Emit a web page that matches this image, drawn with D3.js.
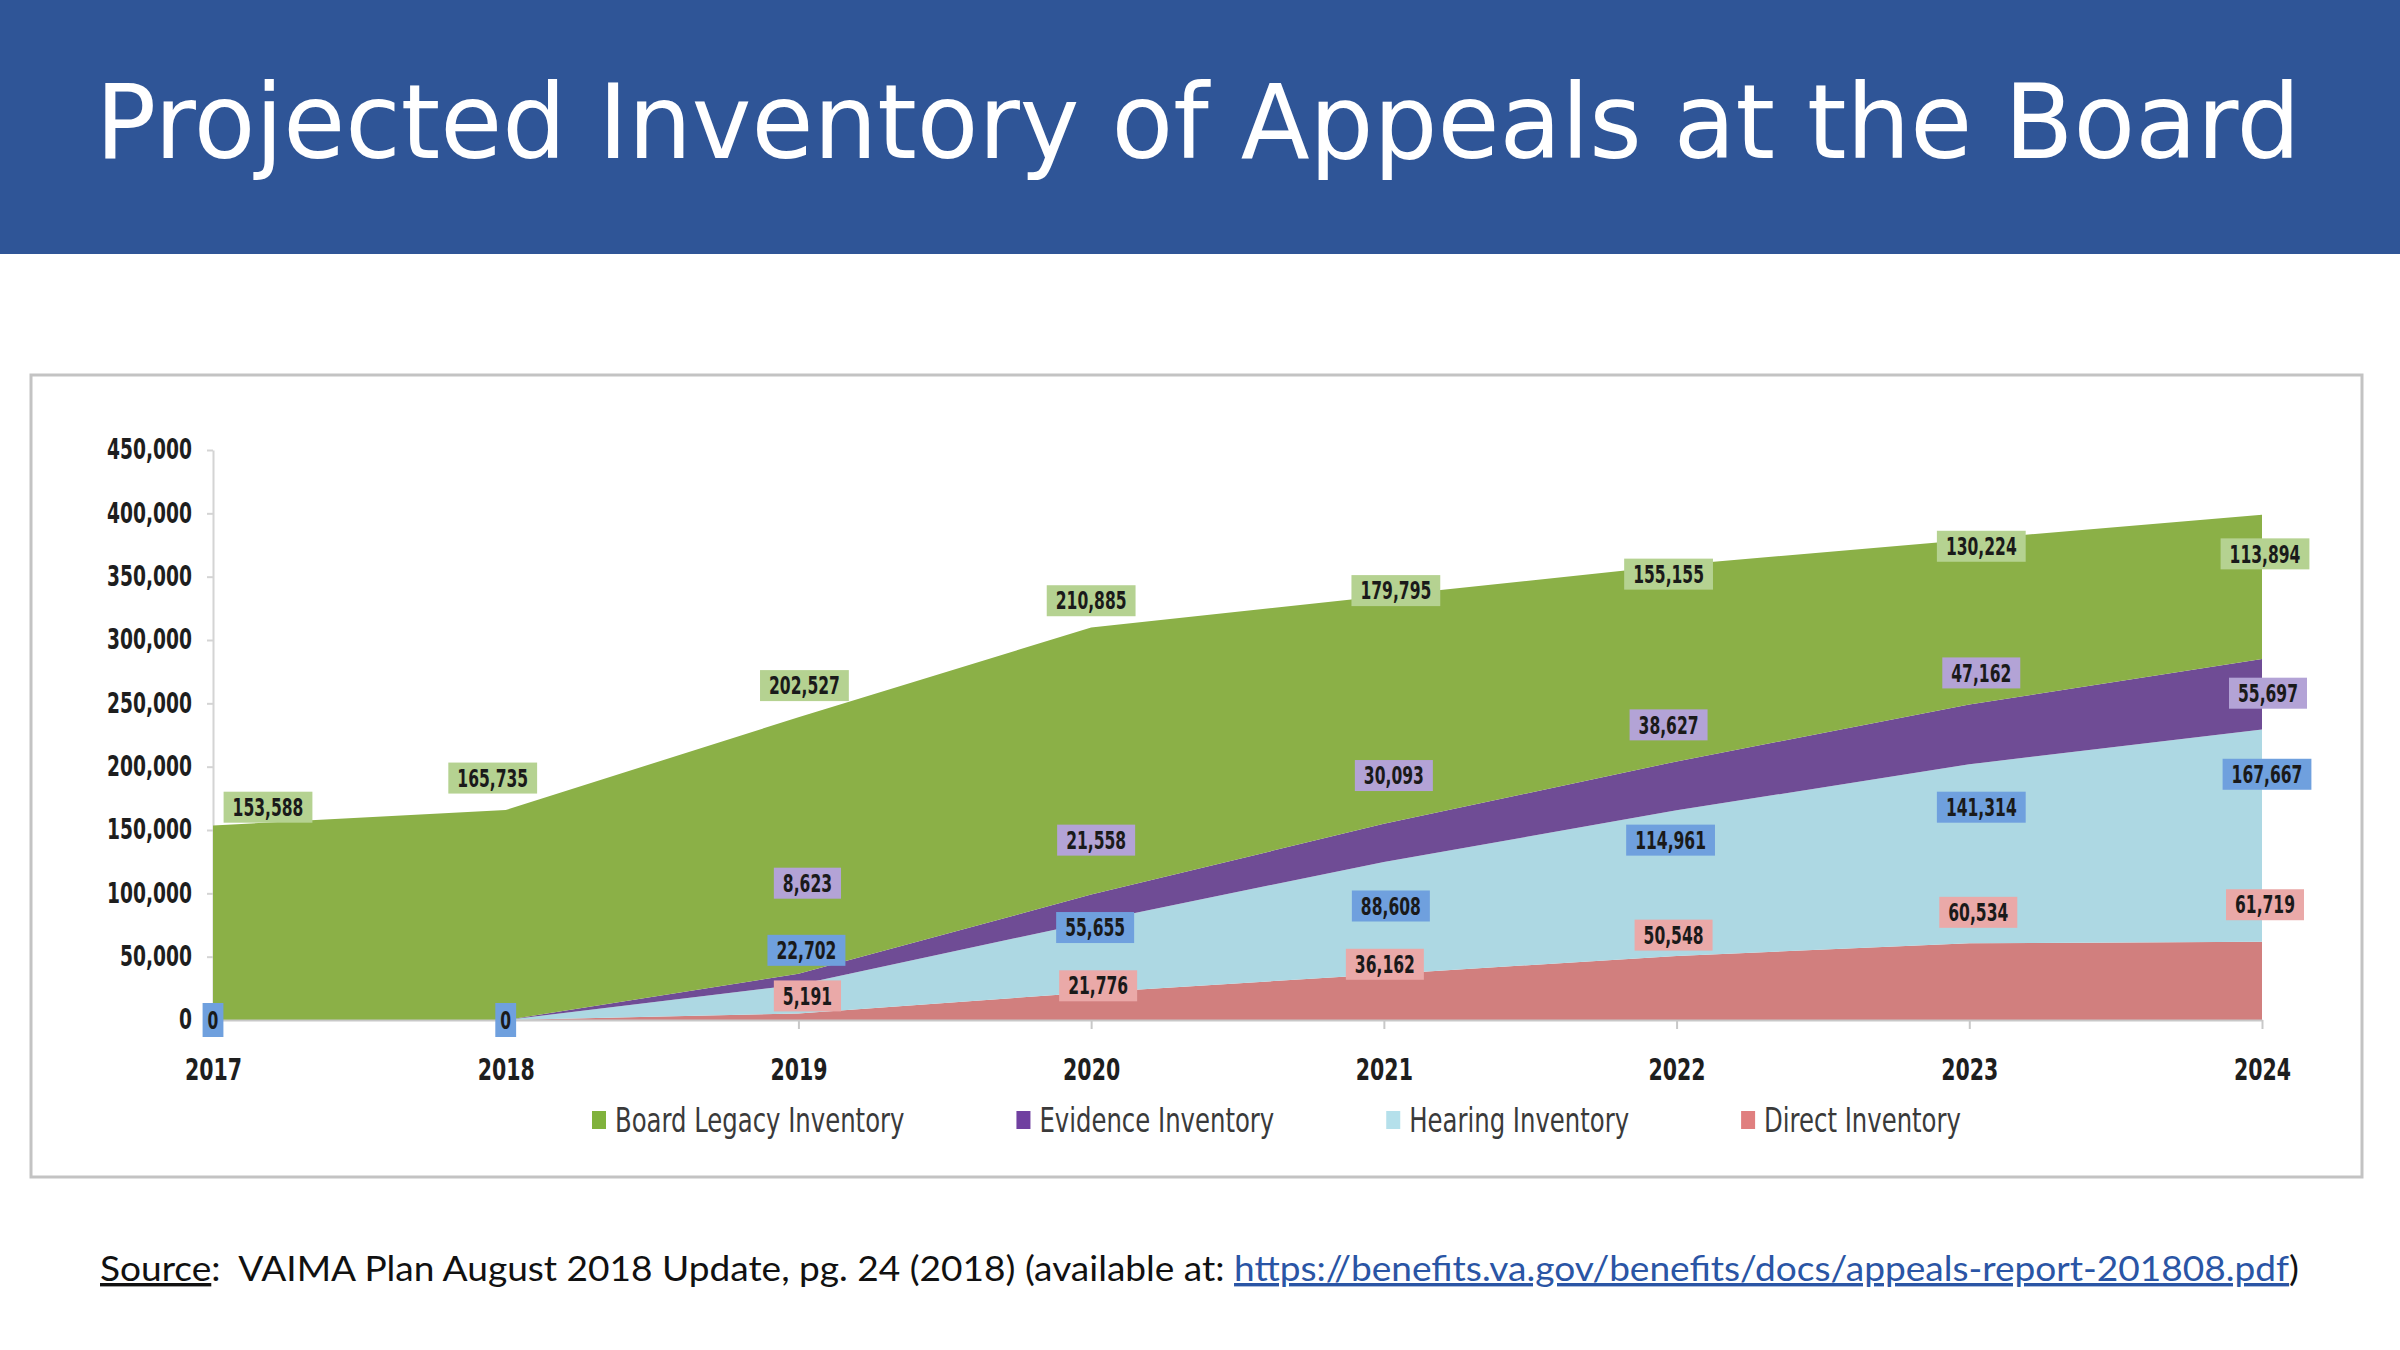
<!DOCTYPE html>
<html>
<head>
<meta charset="utf-8">
<script src="https://cdn.jsdelivr.net/npm/d3@7"></script>
<style>
  body { margin: 0; background: #fff; }
  svg { display: block; }
</style>
</head>
<body>
<div class="chart"></div>
<script>
// data
const years = [2017, 2018, 2019, 2020, 2021, 2022, 2023, 2024];
const legacy = [153588, 165735, 202527, 210885, 179795, 155155, 130224, 113894];
const evidence = [0, 0, 8623, 21558, 30093, 38627, 47162, 55697];
const hearing = [0, 0, 22702, 55655, 88608, 114961, 141314, 167667];
const direct = [0, 0, 5191, 21776, 36162, 50548, 60534, 61719];
const yTicks = [0, 50000, 100000, 150000, 200000, 250000, 300000, 350000, 400000, 450000];
const seriesNames = ["Board Legacy Inventory", "Evidence Inventory", "Hearing Inventory", "Direct Inventory"];

// where the labels sit (in chart units), they were hand placed in the original
const legacyLabelAt = [168000, 191000, 264000, 331000, 339000, 352000, 374000, 368000];
const evidenceLabelAt = [null, null, 108000, 142000, 193000, 233000, 274000, 258000];
const hearingLabelAt = [0, 0, 55000, 73000, 90000, 142000, 168000, 194000];
const directLabelAt = [null, null, 19000, 27000, 44000, 67000, 85000, 91000];
const legacyDx = [55, -13, 6, 0, 12, -8, 12, 3];
const evidenceDx = [0, 0, 9, 5, 10, -8, 12, 6];
const hearingDx = [0, 0, 8, 4, 7, -6, 12, 5];
const directDx = [0, 0, 9, 7, 1, -3, 9, 3];

const narrow = '"Liberation Sans Narrow", "Arial Narrow", "DejaVu Sans Condensed", sans-serif';

// no narrow font here, so squeeze the condensed one to look like Calibri
function squeeze(sel, k) {
    sel.each(function () {
        const w = this.getComputedTextLength();
        d3.select(this)
            .attr("textLength", w * k)
            .attr("lengthAdjust", "spacingAndGlyphs");
    });
}

const rows = years.map((yr, i) => ({
    year: yr,
    legacy: legacy[i],
    evidence: evidence[i],
    hearing: hearing[i],
    direct: direct[i]
}));

const series = [
    {key: "legacy", name: seriesNames[0], fill: "#8bb047", box: "#b5d291", swatch: "#80b23c", at: legacyLabelAt, dx: legacyDx},
    {key: "evidence", name: seriesNames[1], fill: "#6f4c95", box: "#b3a3d6", swatch: "#7040a0", at: evidenceLabelAt, dx: evidenceDx},
    {key: "hearing", name: seriesNames[2], fill: "#add8e3", box: "#6fa0de", swatch: "#b5e0eb", at: hearingLabelAt, dx: hearingDx},
    {key: "direct", name: seriesNames[3], fill: "#d17f7e", box: "#eaa9a8", swatch: "#e07f7f", at: directLabelAt, dx: directDx}
];

const svg = d3.select(".chart")
    .append("svg")
    .attr("width", 2400)
    .attr("height", 1350);

// title banner
svg.append("rect")
    .attr("x", 0).attr("y", 0)
    .attr("width", 2400).attr("height", 254)
    .attr("fill", "#2f5597");

svg.append("text")
    .attr("x", 1198)
    .attr("y", 158)
    .attr("text-anchor", "middle")
    .attr("font-family", '"DejaVu Sans", Verdana, sans-serif')
    .attr("font-size", "104px")
    .attr("fill", "#fff")
    .attr("textLength", 2205)
    .attr("lengthAdjust", "spacingAndGlyphs")
    .text("Projected Inventory of Appeals at the Board");

// chart frame
svg.append("rect")
    .attr("x", 31).attr("y", 375)
    .attr("width", 2331).attr("height", 802)
    .attr("fill", "#fff")
    .attr("stroke", "#c3c3c3")
    .attr("stroke-width", 3);

const x = d3.scalePoint().domain(years).range([213, 2262]);
const y = d3.scaleLinear().domain([0, 450000]).range([1020, 450]);

// y axis goes under the areas
const yAxis = svg.append("g")
    .attr("transform", "translate(213,0)")
    .call(d3.axisLeft(y).tickValues(yTicks).tickSize(6).tickSizeOuter(0).tickPadding(15).tickFormat(d3.format(",")));
yAxis.select(".domain").attr("stroke", "#d4d4d4").attr("stroke-width", 2);
yAxis.selectAll(".tick line").attr("stroke", "#d4d4d4").attr("stroke-width", 2);
yAxis.selectAll("text")
    .attr("font-family", narrow)
    .attr("font-weight", "bold")
    .attr("font-size", "28px")
    .attr("fill", "#1e1e1e")
    .call(squeeze, 0.74);

// stacked areas, direct at the bottom
const stack = d3.stack().keys(["direct", "hearing", "evidence", "legacy"]);
const stacked = stack(rows);

const area = d3.area()
    .x(d => x(d.data.year))
    .y0(d => y(d[0]))
    .y1(d => y(d[1]));

svg.append("g")
    .selectAll("path")
    .data(stacked)
    .join("path")
    .attr("d", area)
    .attr("fill", d => series.find(s => s.key === d.key).fill);

const xAxis = svg.append("g")
    .attr("transform", "translate(0,1020)")
    .call(d3.axisBottom(x).tickSize(9).tickSizeOuter(0).tickPadding(30));
xAxis.select(".domain").attr("stroke", "#c8c8c8").attr("stroke-width", 2);
xAxis.selectAll(".tick line").attr("stroke", "#c8c8c8").attr("stroke-width", 2);
xAxis.selectAll("text")
    .attr("font-family", narrow)
    .attr("font-weight", "bold")
    .attr("font-size", "30px")
    .attr("fill", "#1e1e1e")
    .call(squeeze, 0.76);

// data labels
const labels = [];
series.forEach(s => {
    const vals = s.key === "legacy" ? legacy : s.key === "evidence" ? evidence : s.key === "hearing" ? hearing : direct;
    years.forEach((yr, i) => {
        if (s.at[i] === null) return;
        labels.push({year: yr, value: vals[i], at: s.at[i], dx: s.dx[i], box: s.box});
    });
});

const lab = svg.append("g")
    .selectAll("g")
    .data(labels)
    .join("g")
    .attr("transform", d => `translate(${x(d.year) + d.dx},${y(d.at)})`);

lab.append("rect").attr("class", "bg");

lab.append("text")
    .attr("text-anchor", "middle")
    .attr("dy", "0.36em")
    .attr("font-family", narrow)
    .attr("font-weight", "bold")
    .attr("font-size", "24px")
    .attr("fill", "#1a1a1a")
    .text(d => d3.format(",")(d.value))
    .call(squeeze, 0.72);

lab.each(function (d) {
    const g = d3.select(this);
    const w = +g.select("text").attr("textLength");
    const pad = d.value === 0 ? 5 : 9;
    const h = d.value === 0 ? 34 : 31;
    g.select("rect")
        .attr("x", -w / 2 - pad)
        .attr("y", -h / 2)
        .attr("width", w + pad * 2)
        .attr("height", h)
        .attr("fill", d.box);
});

// legend
const legend = svg.append("g").attr("transform", "translate(592,1120)");
let lx = 0;
series.forEach(s => {
    const item = legend.append("g").attr("transform", `translate(${lx},0)`);
    item.append("rect")
        .attr("x", 0).attr("y", -9)
        .attr("width", 14).attr("height", 18)
        .attr("fill", s.swatch);
    const t = item.append("text")
        .attr("x", 23)
        .attr("dy", "0.35em")
        .attr("font-family", narrow)
        .attr("font-size", "33px")
        .attr("fill", "#3a3a3a")
        .text(s.name)
        .call(squeeze, 0.82);
    lx += 23 + +t.attr("textLength") + 112;
});

// source line
const src = svg.append("text")
    .attr("x", 100)
    .attr("y", 1281)
    .attr("font-family", 'Lato, "Open Sans", sans-serif')
    .attr("font-size", "34px")
    .attr("fill", "#111")
    .attr("textLength", 2199)
    .attr("lengthAdjust", "spacingAndGlyphs");
src.append("tspan").attr("text-decoration", "underline").text("Source");
src.append("tspan").text(":\u00a0 VAIMA Plan August 2018 Update, pg. 24 (2018) (available at: ");
src.append("tspan")
    .attr("fill", "#2a55a5")
    .attr("text-decoration", "underline")
    .text("https://benefits.va.gov/benefits/docs/appeals-report-201808.pdf");
src.append("tspan").text(")");
</script>
</body>
</html>
